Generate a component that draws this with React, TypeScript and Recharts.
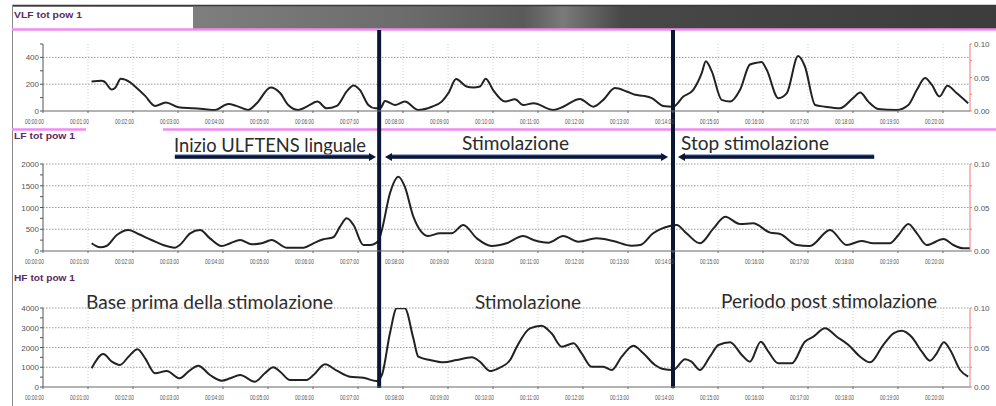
import React from 'react';
import { LineChart, Line, XAxis, YAxis, CartesianGrid, ReferenceLine } from 'recharts';

// ---- data (time in minutes, value in ms^2) ----
const minuteTicks = [0, 1, 2, 3, 4, 5, 6, 7, 8, 9, 10, 11, 12, 13, 14, 15, 16, 17, 18, 19, 20];
const gridMinutes = [1, 2, 3, 4, 5, 6, 7, 8, 9, 10, 11, 12, 13, 14, 15, 16, 17, 18, 19, 20];

const vlfTime = [1.08, 1.3, 1.36, 1.53, 1.6, 1.73, 1.93, 2.04, 2.27, 2.49, 2.73, 3.01, 3.34, 3.56, 3.82, 4.12, 4.3, 4.56, 4.75, 5.06, 5.27, 5.45, 5.67, 5.9, 6.1, 6.3, 6.53, 6.75, 6.9, 7.04, 7.23, 7.38, 7.5, 7.6, 7.82, 8.04, 8.34, 8.64, 8.86, 9.01, 9.18, 9.41, 9.56, 9.71, 9.84, 10.0, 10.27, 10.49, 10.67, 10.9, 11.34, 11.56, 11.93, 12.23, 12.45, 12.71, 12.97, 13.16, 13.34, 13.53, 13.78, 14.0, 14.23, 14.45, 14.64, 14.73, 14.86, 15.08, 15.27, 15.49, 15.71, 15.86, 15.97, 16.08, 16.34, 16.53, 16.78, 16.93, 17.16, 17.38, 17.71, 18.0, 18.16, 18.34, 18.56, 18.97, 19.23, 19.42, 19.6, 19.75, 19.92, 20.1, 20.3, 20.56];
const vlfValue = [221, 226, 220, 160, 171, 241, 216, 185, 113, 38, 63, 28, 20, 15, 8, 53, 38, 8, 58, 176, 134, 45, 8, 40, 70, 20, 38, 146, 191, 158, 45, 20, 22, 75, 45, 70, 8, 32, 70, 134, 239, 183, 176, 183, 241, 158, 70, 88, 45, 58, 8, 32, 90, 32, 83, 171, 146, 121, 113, 96, 38, 32, 108, 158, 284, 372, 297, 83, 70, 158, 347, 360, 365, 309, 96, 134, 410, 334, 45, 32, 20, 96, 138, 70, 15, 8, 45, 158, 246, 196, 108, 189, 134, 58];

const lfTime = [1.08, 1.27, 1.41, 1.64, 1.9, 2.12, 2.41, 2.67, 2.93, 3.04, 3.27, 3.49, 3.71, 3.97, 4.16, 4.38, 4.64, 4.86, 5.08, 5.41, 5.79, 6.01, 6.23, 6.45, 6.6, 6.75, 6.9, 7.12, 7.27, 7.45, 7.53, 7.71, 7.9, 8.04, 8.23, 8.56, 8.82, 9.08, 9.34, 9.64, 9.97, 10.3, 10.67, 10.9, 11.23, 11.56, 11.9, 12.3, 12.67, 13.08, 13.27, 13.56, 13.93, 14.08, 14.3, 14.6, 14.9, 15.16, 15.49, 15.78, 16.16, 16.38, 16.75, 17.04, 17.49, 17.86, 18.19, 18.45, 18.82, 19.01, 19.23, 19.42, 19.64, 20.01, 20.23, 20.45, 20.6];
const lfValue = [177, 85, 115, 368, 483, 391, 253, 138, 77, 138, 407, 483, 291, 115, 177, 253, 154, 177, 253, 77, 77, 177, 269, 315, 559, 752, 598, 138, 138, 230, 483, 1326, 1708, 1478, 789, 345, 407, 407, 598, 291, 115, 177, 345, 253, 192, 345, 215, 291, 230, 123, 138, 407, 575, 598, 407, 177, 521, 789, 621, 636, 422, 391, 138, 115, 483, 138, 230, 177, 177, 368, 621, 407, 138, 276, 138, 62, 62];

const hfTime = [1.08, 1.34, 1.53, 1.71, 1.9, 2.1, 2.27, 2.49, 2.75, 3.04, 3.23, 3.45, 3.71, 3.97, 4.16, 4.38, 4.71, 4.93, 5.12, 5.27, 5.49, 5.86, 6.01, 6.27, 6.53, 6.82, 7.12, 7.41, 7.53, 7.71, 7.86, 8.04, 8.23, 8.34, 8.6, 8.9, 9.19, 9.53, 9.71, 9.93, 10.12, 10.38, 10.53, 10.82, 11.08, 11.3, 11.53, 11.79, 11.97, 12.19, 12.45, 12.64, 12.86, 13.12, 13.34, 13.6, 13.78, 14.0, 14.27, 14.41, 14.6, 14.82, 15.01, 15.27, 15.53, 15.71, 15.95, 16.12, 16.34, 16.64, 16.93, 17.12, 17.38, 17.64, 17.9, 18.16, 18.38, 18.67, 18.9, 19.08, 19.3, 19.53, 19.71, 19.86, 20.02, 20.16, 20.38, 20.56];
const hfValue = [947, 1671, 1281, 1114, 1534, 1909, 1453, 694, 810, 440, 775, 1078, 608, 319, 440, 608, 268, 694, 997, 775, 354, 354, 608, 1149, 825, 521, 471, 300, 608, 2718, 3985, 3985, 2465, 1534, 1367, 1249, 1367, 1503, 1281, 810, 947, 1367, 2040, 2970, 3104, 2718, 2040, 2212, 1706, 1028, 1028, 861, 1534, 2091, 1706, 1114, 911, 861, 1402, 1281, 861, 1534, 2126, 2263, 1620, 1281, 2294, 1787, 1200, 1200, 2294, 2547, 2970, 2547, 2126, 1534, 1249, 2126, 2718, 2852, 2547, 1787, 1333, 1706, 2263, 1873, 861, 521];

const vlfTicks = [0, 100, 200, 300, 400, 500];
const lfTicks = [0, 250, 500, 750, 1000, 1250, 1500, 1750, 2000];
const hfTicks = [0, 500, 1000, 1500, 2000, 2500, 3000, 3500, 4000];
const rightTicks = [0, 0.025, 0.05, 0.075, 0.1];

const eventTimes = [7.47, 14.0];
const arrowStart = [2.93, 7.6, 14.11];
const arrowEnd = [7.4, 13.89, 18.47];
const arrowHeadStart = [false, true, true];
const arrowHeadEnd = [true, true, false];
const ARROW_LEVEL = 2160;

const X_DOMAIN: [number, number] = [0, 20.6];

const build = (t: number[], v: number[]) => t.map((x, i) => ({ t: x, v: v[i] }));
const vlfData = build(vlfTime, vlfValue);
const lfData = build(lfTime, lfValue);
const hfData = build(hfTime, hfValue);

const NAVY = '#0b1633';
const AXIS_FONT = 'Liberation Sans, Arial, sans-serif';

const XTick = (props: any) => {
  const { x, y, payload } = props;
  const m = payload.value as number;
  const label = `00:${String(m).padStart(2, '0')}:00`;
  return (
    <text x={x + 1} y={y + 8.5} textAnchor="end" fontSize={7.5} fill="#555" fontFamily={AXIS_FONT}
      textLength={19} lengthAdjust="spacingAndGlyphs">{label}</text>
  );
};

const makeLeftTick = (major: number) => (props: any) => {
  const { x, y, payload } = props;
  const v = payload.value as number;
  if (v % major !== 0) return <g />;
  return (
    <text x={x} y={y + 3} textAnchor="end" fontSize={8} fill="#555" fontFamily={AXIS_FONT}>{v}</text>
  );
};

const RightTick = (props: any) => {
  const { x, y, payload } = props;
  const v = payload.value as number;
  if (Math.abs((v * 1000) % 50) > 1e-6) return <g />;
  return (
    <text x={x} y={y + 3} textAnchor="start" fontSize={8} fill="#555" fontFamily={AXIS_FONT}>{v.toFixed(2)}</text>
  );
};

const vline = (top: number, bottom: number) => (p: any) => (
  <line x1={p.x1} x2={p.x1} y1={top} y2={bottom} stroke={NAVY} strokeWidth={4} />
);

const arrowShape = (hs: boolean, he: boolean) => (p: any) => {
  const { x1, x2, y1 } = p;
  const y = y1;
  const a = hs ? x1 + 6 : x1;
  const b = he ? x2 - 6 : x2;
  return (
    <g>
      <line x1={a} x2={b} y1={y - 0.6} y2={y - 0.6} stroke="#7d93c4" strokeWidth={4.2} />
      <line x1={a} x2={b} y1={y} y2={y} stroke={NAVY} strokeWidth={3.4} />
      {he && <polygon points={`${x2},${y} ${x2 - 7},${y - 4} ${x2 - 7},${y + 4}`} fill={NAVY} />}
      {hs && <polygon points={`${x1},${y} ${x1 + 7},${y - 4} ${x1 + 7},${y + 4}`} fill={NAVY} />}
    </g>
  );
};

type PanelProps = {
  top: number;
  height: number;
  marginTop: number;
  data: { t: number; v: number }[];
  yMax: number;
  yTicks: number[];
  major: number;
  gridValues: number[];
  lineTop: number;
  lineBottom: number;
  arrows?: boolean;
};

const Panel = (pp: PanelProps) => (
  <div style={{ position: 'absolute', left: 0, top: pp.top }}>
    <LineChart width={996} height={pp.height} data={pp.data}
      margin={{ top: pp.marginTop, right: 0, bottom: 0, left: 0 }}>
      <CartesianGrid vertical={false} horizontalValues={pp.gridValues} stroke="#9a9a9a" strokeDasharray="1.5 1.5" />
      <CartesianGrid horizontal={false} verticalValues={gridMinutes} stroke="#d2d2d2" strokeDasharray="1 2" />
      <XAxis dataKey="t" type="number" domain={X_DOMAIN} ticks={minuteTicks} allowDataOverflow
        height={19} tickSize={2} tickMargin={2} stroke="#666" tick={<XTick />} interval={0} />
      <YAxis domain={[0, pp.yMax]} ticks={pp.yTicks} allowDataOverflow width={43} tickSize={3} tickMargin={1}
        stroke="#555" tick={makeLeftTick(pp.major)} interval={0} />
      <YAxis yAxisId="r" orientation="right" domain={[0, 0.1]} ticks={rightTicks} allowDataOverflow width={26}
        tickSize={2} tickMargin={2} stroke="#f07878" tick={<RightTick />} interval={0} />
      <Line type="monotone" dataKey="v" stroke="#222" strokeWidth={2} dot={false} isAnimationActive={false} />
      {eventTimes.map((t) => (
        <ReferenceLine key={t} x={t} shape={vline(pp.lineTop, pp.lineBottom)} />
      ))}
      {pp.arrows && arrowStart.map((s, i) => (
        <ReferenceLine key={'a' + i} ifOverflow="visible"
          segment={[{ x: s, y: ARROW_LEVEL }, { x: arrowEnd[i], y: ARROW_LEVEL }]}
          shape={arrowShape(arrowHeadStart[i], arrowHeadEnd[i])} />
      ))}
    </LineChart>
  </div>
);

const TITLE_COLOR = '#5e2a60';
const ANN_FONT = 'Lato, "Open Sans", sans-serif';

export default function App() {
  return (
    <div style={{ position: 'absolute', left: 0, top: 0, width: 996, height: 406, background: '#fff', overflow: 'hidden' }}>
      <svg width={996} height={406} style={{ position: 'absolute', left: 0, top: 0 }}>
        <defs>
          <linearGradient id="bar" x1="0" y1="0" x2="1" y2="0">
            <stop offset="0%" stopColor="#8e8e8e" />
            <stop offset="40%" stopColor="#6c6c6c" />
            <stop offset="52%" stopColor="#5a5a5a" />
            <stop offset="56%" stopColor="#7a7a7a" />
            <stop offset="62%" stopColor="#484848" />
            <stop offset="100%" stopColor="#3c3c3c" />
          </linearGradient>
        </defs>
        <rect x={12} y={5} width={984} height={24} fill="url(#bar)" />
        <rect x={13} y={7} width={180} height={22} fill="#fff" />
        <line x1={12} x2={996} y1={5.5} y2={5.5} stroke="#3a3a3a" strokeWidth={1.5} />
        <line x1={12.5} x2={12.5} y1={5} y2={406} stroke="#8a8a8a" strokeWidth={1} />
        <line x1={12} x2={996} y1={29.5} y2={29.5} stroke="#f08cf0" strokeWidth={2.5} />
        <line x1={12} x2={86} y1={129.5} y2={129.5} stroke="#f08cf0" strokeWidth={2.5} />
        <line x1={163} x2={996} y1={129.5} y2={129.5} stroke="#f08cf0" strokeWidth={2.5} />
        <text x={14} y={18} fontSize={9} fontWeight="bold" fill={TITLE_COLOR} fontFamily={AXIS_FONT} textLength={68} lengthAdjust="spacingAndGlyphs">VLF tot pow 1</text>
        <text x={14} y={139} fontSize={9} fontWeight="bold" fill={TITLE_COLOR} fontFamily={AXIS_FONT} textLength={61} lengthAdjust="spacingAndGlyphs">LF tot pow 1</text>
        <text x={14} y={281} fontSize={9} fontWeight="bold" fill={TITLE_COLOR} fontFamily={AXIS_FONT} textLength={61} lengthAdjust="spacingAndGlyphs">HF tot pow 1</text>
        <g fontFamily={ANN_FONT} fontSize={18.5} fill="#2b2b2b">
          <text x={174} y={152} textLength={192} lengthAdjust="spacingAndGlyphs">Inizio ULFTENS linguale</text>
          <text x={462} y={150} textLength={107} lengthAdjust="spacingAndGlyphs">Stimolazione</text>
          <text x={681} y={150} textLength={148} lengthAdjust="spacingAndGlyphs">Stop stimolazione</text>
          <text x={86} y={309} textLength={247} lengthAdjust="spacingAndGlyphs">Base prima della stimolazione</text>
          <text x={475} y={309} textLength={106} lengthAdjust="spacingAndGlyphs">Stimolazione</text>
          <text x={721} y={308} textLength={216} lengthAdjust="spacingAndGlyphs">Periodo post stimolazione</text>
        </g>
      </svg>
      <Panel top={30} height={100} marginTop={14} data={vlfData} yMax={500} yTicks={vlfTicks} major={200}
        gridValues={[200, 400]} lineTop={0} lineBottom={100} />
      <Panel top={130} height={140} marginTop={34} data={lfData} yMax={2000} yTicks={lfTicks} major={500}
        gridValues={[500, 1000, 1500, 2000]} lineTop={0} lineBottom={140} arrows />
      <Panel top={270} height={136} marginTop={38} data={hfData} yMax={4000} yTicks={hfTicks} major={1000}
        gridValues={[1000, 2000, 3000, 4000]} lineTop={0} lineBottom={118} />
    </div>
  );
}
